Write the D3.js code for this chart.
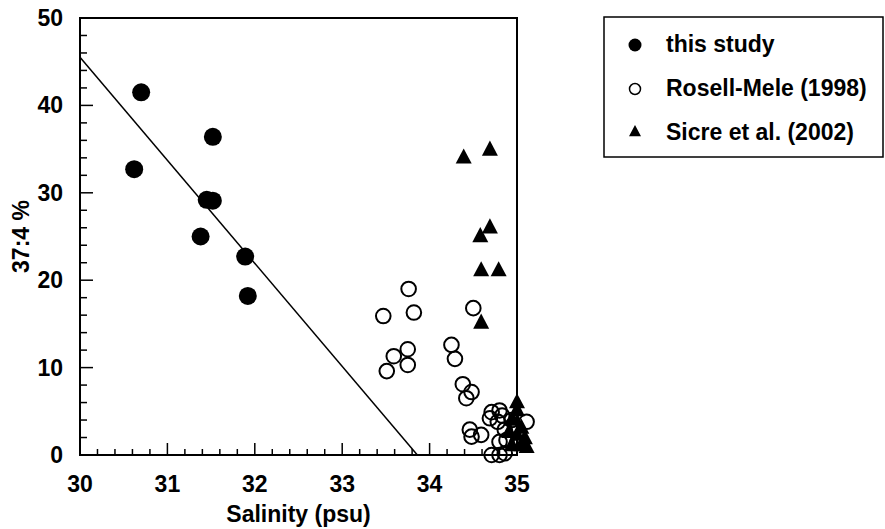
<!DOCTYPE html>
<html>
<head>
<meta charset="utf-8">
<script src="https://cdn.jsdelivr.net/npm/d3@7"></script>
<style>
  body { margin: 0; background: #fff; }
  text { font-family: "Liberation Sans", Arial, Helvetica, sans-serif; font-weight: bold; fill: #000; }
</style>
</head>
<body>
<div id="chart"></div>
<script>
// this study (filled circles)
var studyX = [30.62, 30.70, 31.52, 31.45, 31.52, 31.38, 31.89, 31.92];
var studyY = [32.7, 41.5, 36.4, 29.2, 29.1, 25.0, 22.7, 18.2];

// Rosell-Mele (1998) (open circles)
var rosellX = [33.47, 33.51, 33.59, 33.75, 33.75, 33.76, 33.82, 34.25, 34.29, 34.38, 34.42, 34.48, 34.50,
               34.71, 34.80, 34.69, 34.78, 34.46, 34.48, 34.59, 35.11, 34.86, 34.71, 34.80, 34.86, 34.88,
               34.80, 34.94, 34.83];
var rosellY = [15.9, 9.6, 11.3, 12.1, 10.3, 19.0, 16.3, 12.6, 11.0, 8.1, 6.5, 7.2, 16.8,
               4.9, 5.1, 4.2, 3.8, 2.9, 2.1, 2.3, 3.8, 2.9, 0.0, 0.0, 0.2, 1.7,
               1.5, 4.0, 4.5];

// Sicre et al. (2002) (filled triangles)
var sicreX = [34.39, 34.69, 34.58, 34.69, 34.59, 34.79, 34.59, 35.0, 35.0, 34.95, 35.05, 35.0, 35.09,
              35.05, 34.94, 35.11, 34.91];
var sicreY = [34.0, 34.9, 25.0, 26.0, 21.1, 21.1, 15.1, 6.0, 5.1, 4.0, 3.1, 2.3, 1.9,
              1.1, 1.1, 0.9, 2.6];

// regression line end points
var fitX = [30, 33.86];
var fitY = [45.5, 0];

var legendLabels = ["this study", "Rosell-Mele (1998)", "Sicre et al. (2002)"];

var svgWidth = 885;
var svgHeight = 529;
var margin = { top: 18, right: 368, bottom: 74, left: 80 };
var width = svgWidth - margin.left - margin.right;
var height = svgHeight - margin.top - margin.bottom;
var fontSize = "23px";

var svg = d3.select("#chart").append("svg")
    .attr("width", svgWidth)
    .attr("height", svgHeight);

var g = svg.append("g")
    .attr("transform", `translate(${margin.left}, ${margin.top})`);

var x = d3.scaleLinear().domain([30, 35]).range([0, width]);
var y = d3.scaleLinear().domain([0, 50]).range([height, 0]);

// ticks pointing inward, long ones on the labelled values
var xTicks = d3.range(0, 26).map(i => 30 + i * 0.2);
g.selectAll(".xtick")
    .data(xTicks)
    .enter().append("line")
    .attr("x1", d => x(d)).attr("x2", d => x(d))
    .attr("y1", height)
    .attr("y2", (d, i) => i % 5 === 0 ? height - 12 : height - 6)
    .attr("stroke", "#000").attr("stroke-width", 1.5);

var yTicks = d3.range(0, 26).map(i => i * 2);
g.selectAll(".ytick")
    .data(yTicks)
    .enter().append("line")
    .attr("x1", 0)
    .attr("x2", (d, i) => i % 5 === 0 ? 13 : 7)
    .attr("y1", d => y(d)).attr("y2", d => y(d))
    .attr("stroke", "#000").attr("stroke-width", 1.5);

// frame
g.append("rect")
    .attr("x", 0).attr("y", 0)
    .attr("width", width).attr("height", height)
    .attr("fill", "none").attr("stroke", "#000").attr("stroke-width", 2);

// tick labels
g.selectAll(".xlab")
    .data(d3.range(30, 36, 1))
    .enter().append("text")
    .attr("x", d => x(d)).attr("y", height + 37)
    .attr("text-anchor", "middle")
    .style("font-size", fontSize)
    .text(d => d);

g.selectAll(".ylab")
    .data(d3.range(0, 51, 10))
    .enter().append("text")
    .attr("x", -17).attr("y", d => y(d) + 8)
    .attr("text-anchor", "end")
    .style("font-size", fontSize)
    .text(d => d);

// axis titles
g.append("text")
    .attr("x", width / 2).attr("y", height + 67)
    .attr("text-anchor", "middle")
    .style("font-size", fontSize)
    .text("Salinity (psu)");

g.append("text")
    .attr("transform", `translate(-51.5, ${height / 2}) rotate(-90)`)
    .attr("text-anchor", "middle")
    .style("font-size", fontSize)
    .text("37:4 %");

// regression line
g.append("line")
    .attr("x1", x(fitX[0])).attr("y1", y(fitY[0]))
    .attr("x2", x(fitX[1])).attr("y2", y(fitY[1]))
    .attr("stroke", "#000").attr("stroke-width", 1.5);

function tri(cx, cy, s) {
    var h = s * 0.95;
    return `M${cx},${cy - h * 0.62}L${cx + s / 2},${cy + h * 0.38}L${cx - s / 2},${cy + h * 0.38}Z`;
}

// Rosell-Mele open circles
g.selectAll(".rosell")
    .data(rosellX)
    .enter().append("circle")
    .attr("cx", d => x(d))
    .attr("cy", (d, i) => y(rosellY[i]))
    .attr("r", 7.3)
    .attr("fill", "none").attr("stroke", "#000").attr("stroke-width", 2);

// Sicre triangles
g.selectAll(".sicre")
    .data(sicreX)
    .enter().append("path")
    .attr("d", (d, i) => tri(x(d), y(sicreY[i]), 16))
    .attr("fill", "#000");

// this study filled circles
g.selectAll(".study")
    .data(studyX)
    .enter().append("circle")
    .attr("cx", d => x(d))
    .attr("cy", (d, i) => y(studyY[i]))
    .attr("r", 9)
    .attr("fill", "#000");

// legend
var legend = svg.append("g").attr("transform", "translate(604, 17)");
legend.append("rect")
    .attr("x", 0).attr("y", 0).attr("width", 279).attr("height", 140)
    .attr("fill", "none").attr("stroke", "#000").attr("stroke-width", 1.5);

legend.append("circle").attr("cx", 31).attr("cy", 28).attr("r", 6.5).attr("fill", "#000");
legend.append("circle").attr("cx", 31).attr("cy", 72).attr("r", 5.5)
    .attr("fill", "none").attr("stroke", "#000").attr("stroke-width", 1.5);
legend.append("path").attr("d", tri(31, 115, 12)).attr("fill", "#000");

legend.selectAll(".ltext")
    .data(legendLabels)
    .enter().append("text")
    .attr("x", 62)
    .attr("y", (d, i) => 35 + i * 44)
    .style("font-size", fontSize)
    .text(d => d);
</script>
</body>
</html>
